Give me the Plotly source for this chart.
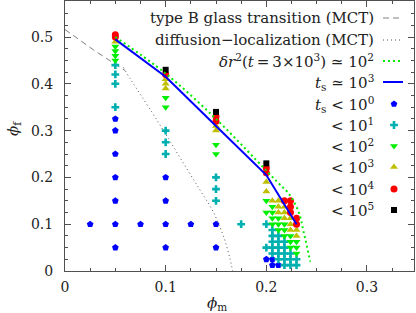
import plotly.graph_objects as go

# ---------------- data ----------------
# t_s < 10^0  (blue pentagons)
c0_x = [0.05]*7 + [0.025, 0.075, 0.125] + [0.1]*4 + [0.15]*2 + [0.2, 0.206, 0.206, 0.212]
c0_y = [0.05, 0.1, 0.15, 0.2, 0.25, 0.3, 0.325] + [0.1, 0.1, 0.1] + [0.05, 0.1, 0.15, 0.2] + [0.05, 0.1] + [0.025, 0.025, 0.0125, 0.0125]
# t_s < 10^1 (cyan)
c1_x = [0.05]*4 + [0.1]*3 + [0.15]*3 + [0.175, 0.2, 0.2] + \
       [0.206]*5 + [0.212]*5 + [0.218]*5 + [0.224]*3 + [0.23]*2
c1_y = [0.35, 0.4, 0.42, 0.44] + [0.25, 0.275, 0.3] + [0.15, 0.175, 0.2] + [0.1, 0.1, 0.05] + \
       [0.0875, 0.075, 0.0625, 0.05, 0.0375] + [0.075, 0.0625, 0.05, 0.0375, 0.025] + \
       [0.0625, 0.05, 0.0375, 0.025, 0.0125] + [0.0375, 0.025, 0.0125] + [0.025, 0.0125]
# t_s < 10^2 (green down triangles)
c2_x = [0.05]*4 + [0.1]*2 + [0.15]*2 + [0.2, 0.2] + [0.206]*4 + [0.212]*3 + [0.218]*3 + [0.224]*3 + [0.23]*3
c2_y = [0.45, 0.46, 0.47, 0.48] + [0.35, 0.37] + [0.25, 0.27] + [0.15, 0.125] + \
       [0.1375, 0.125, 0.1125, 0.1] + [0.1125, 0.1, 0.0875] + [0.1, 0.0875, 0.075] + \
       [0.075, 0.0625, 0.05] + [0.0625, 0.05, 0.0375]
# t_s < 10^3 (olive up triangles)
c3_x = [0.05] + [0.1]*3 + [0.15]*2 + [0.2]*2 + [0.206] + [0.212]*3 + [0.218]*3 + [0.224]*3 + [0.23]*2
c3_y = [0.49] + [0.39, 0.40, 0.41] + [0.30, 0.31] + [0.17, 0.19] + [0.15] + [0.15, 0.1375, 0.125] + \
       [0.1375, 0.125, 0.1125] + [0.1125, 0.1, 0.0875] + [0.0875, 0.075]
# t_s < 10^4 (red circles)
c4_x = [0.05, 0.05, 0.1, 0.15, 0.15, 0.2, 0.2, 0.218, 0.224, 0.224, 0.224, 0.23, 0.23]
c4_y = [0.50, 0.505, 0.42, 0.32, 0.33, 0.21, 0.22, 0.15, 0.15, 0.1375, 0.125, 0.1125, 0.1]
# t_s < 10^5 (black squares)
c5_x = [0.1, 0.15, 0.2]
c5_y = [0.43, 0.34, 0.23]

# lines
ts_x = [0.05, 0.1, 0.15, 0.2, 0.23]
ts_y = [0.495, 0.415, 0.31, 0.205, 0.1]
dr_x = [0.05, 0.1, 0.15, 0.19, 0.2105, 0.222, 0.232, 0.237, 0.2436]
dr_y = [0.50, 0.422, 0.325, 0.237, 0.191, 0.166, 0.127, 0.084, 0.02]
glass_x = [0.0, 0.03, 0.06]
glass_y = [0.516, 0.47, 0.428]
dl_x = [0.058, 0.065, 0.075, 0.09, 0.105, 0.12, 0.135, 0.1476, 0.1576, 0.1635, 0.1665]
dl_y = [0.435, 0.41, 0.377, 0.327, 0.275, 0.222, 0.17, 0.125, 0.073, 0.03, 0.0]

x_ticks = [0, 0.1, 0.2, 0.3]
y_ticks = [0, 0.1, 0.2, 0.3, 0.4, 0.5]

legend_labels = [
    "type B glass transition (MCT)",
    "diffusion\u2212localization (MCT)",
    "<i>\u03b4r</i><sup>2</sup>(<i>t</i>\u2009=\u20093\u00d710<sup>3</sup>) \u2243 10<sup>2</sup>",
    "<i>t</i><sub>s</sub> \u2243 10<sup>3</sup>",
    "<i>t</i><sub>s</sub> < 10<sup>0</sup>",
    "< 10<sup>1</sup>",
    "< 10<sup>2</sup>",
    "< 10<sup>3</sup>",
    "< 10<sup>4</sup>",
    "< 10<sup>5</sup>",
]

# ---------------- styles ----------------
FONT = "DejaVu Serif"
TXT = "#222222"
BLUE, CYAN, GREEN, OLIVE, RED, BLACK = "#0000ff", "#00b0b0", "#00ee00", "#bfbf00", "#ff0000", "#000000"
marker_styles = [
    (c0_x, c0_y, "pentagon", BLUE, 7),
    (c1_x, c1_y, "cross", CYAN, 6.5),
    (c2_x, c2_y, "triangle-down", GREEN, 7),
    (c3_x, c3_y, "triangle-up", OLIVE, 7),
    (c4_x, c4_y, "circle", RED, 7),
    (c5_x, c5_y, "square", BLACK, 6),
]

fig = go.Figure()

fig.add_trace(go.Scatter(x=glass_x, y=glass_y, mode="lines",
                         line=dict(color="#808080", width=1, dash="6px,4px"), showlegend=False))
fig.add_trace(go.Scatter(x=dl_x, y=dl_y, mode="lines", line_shape="spline",
                         line=dict(color="#555555", width=1, dash="1px,3px"), showlegend=False))
for xs, ys, sym, col, sz in marker_styles:
    fig.add_trace(go.Scatter(x=xs, y=ys, mode="markers",
                             marker=dict(symbol=sym, color=col, size=sz, line=dict(width=0)),
                             showlegend=False))
fig.add_trace(go.Scatter(x=ts_x, y=ts_y, mode="lines",
                         line=dict(color=BLUE, width=2), showlegend=False))
fig.add_trace(go.Scatter(x=dr_x, y=dr_y, mode="lines", line_shape="spline",
                         line=dict(color=GREEN, width=2, dash="2px,3px"), showlegend=False))

# ---------------- hand-made legend (symbol on the right) ----------------
L, R, T, B = 65, 2, 1, 42
W, H = 416, 313
pw, ph = W - L - R, H - T - B
row_px = [18, 40, 61, 82, 104, 125, 146, 167, 189, 210]
def py(p):
    return (H - B - p) / ph
def px(p):
    return (p - L) / pw
text_x = px(376)
s0, s1, sm = px(383), px(403), px(394)

line_samples = [
    dict(color="#808080", width=1, dash="6px,4px"),
    dict(color="#555555", width=1, dash="1px,3px"),
    dict(color=GREEN, width=2, dash="2px,3px"),
    dict(color=BLUE, width=2),
]
for i, ln in enumerate(line_samples):
    yy = py(row_px[i])
    fig.add_trace(go.Scatter(x=[s0, s1], y=[yy, yy], mode="lines", line=ln,
                             xaxis="x2", yaxis="y2", showlegend=False))
for j, (xs, ys, sym, col, sz) in enumerate(marker_styles):
    yy = py(row_px[4 + j])
    fig.add_trace(go.Scatter(x=[sm], y=[yy], mode="markers",
                             marker=dict(symbol=sym, color=col, size=sz, line=dict(width=0)),
                             xaxis="x2", yaxis="y2", showlegend=False))
for i, lab in enumerate(legend_labels):
    fig.add_annotation(x=text_x, y=py(row_px[i]), xref="paper", yref="paper",
                       text=lab, showarrow=False, xanchor="right", yanchor="middle",
                       font=dict(family=FONT, size=15, color=TXT))

# axis titles as annotations
fig.add_annotation(x=px(217), y=py(303), xref="paper", yref="paper",
                   text="<i>\u03d5</i><sub>m</sub>", showarrow=False,
                   xanchor="center", yanchor="middle", font=dict(family=FONT, size=15, color=TXT))
fig.add_annotation(x=px(14), y=py(128), xref="paper", yref="paper",
                   text="<i>\u03d5</i><sub>f</sub>", showarrow=False, textangle=-90,
                   xanchor="center", yanchor="middle", font=dict(family=FONT, size=15, color=TXT))

axis_common = dict(
    showline=True, linecolor="#505050", linewidth=1, mirror="allticks",
    ticks="inside", ticklen=6, tickcolor="#505050", tickwidth=1,
    showgrid=False, zeroline=False,
    tickfont=dict(family=FONT, size=14, color=TXT),
)
fig.update_layout(
    width=W, height=H,
    margin=dict(l=L, r=R, t=T, b=B),
    plot_bgcolor="white", paper_bgcolor="white",
    showlegend=False,
    xaxis=dict(range=[0, 0.3467], tickvals=x_ticks, ticktext=["0", "0.1", "0.2", "0.3"],
               minor=dict(dtick=0.025, ticks="inside", ticklen=3, tickcolor="#505050"),
               ticklabelstandoff=3, **axis_common),
    yaxis=dict(range=[0, 0.577], tickvals=y_ticks, ticktext=["0", "0.1", "0.2", "0.3", "0.4", "0.5"],
               minor=dict(dtick=0.025, ticks="inside", ticklen=3, tickcolor="#505050"),
               ticklabelstandoff=8, **axis_common),
    xaxis2=dict(overlaying="x", range=[0, 1], visible=False),
    yaxis2=dict(overlaying="y", range=[0, 1], visible=False),
)

fig.write_html("out.html", config={"displayModeBar": False},
               post_script="document.body.style.margin='0';document.body.style.overflow='hidden';")
